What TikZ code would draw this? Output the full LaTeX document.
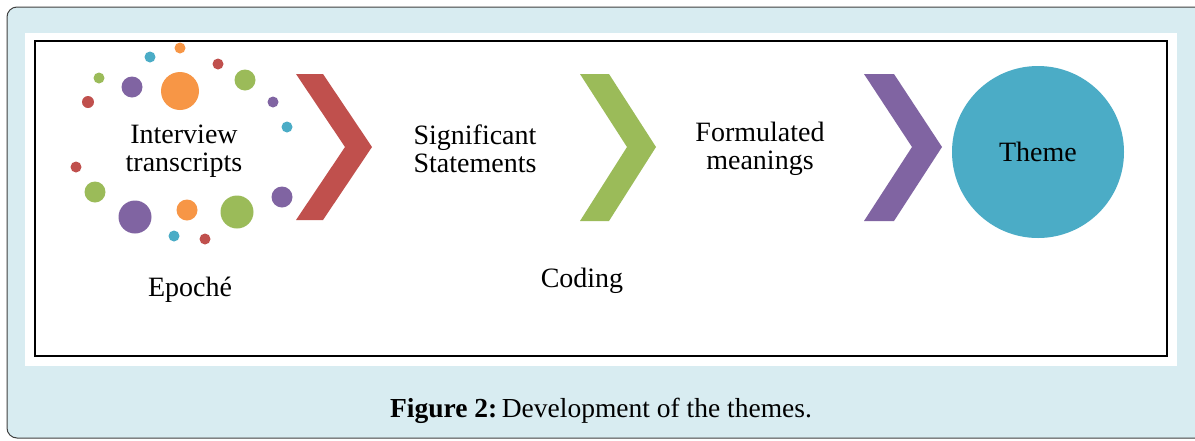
\documentclass[tikz,border=0pt]{standalone}
\usepackage{fontspec}
\setmainfont{Liberation Serif}
\definecolor{panelblue}{HTML}{D8ECF1}
\definecolor{dotred}{HTML}{C0504D}
\definecolor{dotgreen}{HTML}{9BBB59}
\definecolor{dotpurple}{HTML}{8064A2}
\definecolor{dotorange}{HTML}{F79646}
\definecolor{dotcyan}{HTML}{4BACC6}
\begin{document}
\begin{tikzpicture}[x=1pt,y=-1pt,
  dot/.style={circle,inner sep=0pt,minimum size=#1},
  label/.style={font=\fontsize{28}{28.5}\selectfont,align=center,text=black}]
\useasboundingbox (0,0) rectangle (1195,440);
\clip (0,0) rectangle (1195,440);
% panel and frame
\draw[fill=panelblue,draw=black!75,line width=1pt,rounded corners=10pt] (7,7) rectangle (1215,438);
\fill[white] (25,33) rectangle (1177,366);
\draw[line width=2.2pt] (35,41) rectangle (1167,356);
% scattered dots
\foreach \x/\y/\d/\c/\n in {
  180/48/11/dotorange/a1, 150/57/11/dotcyan/a2, 218/64/11/dotred/a3,
  99/78/11/dotgreen/a4, 132/87/21/dotpurple/a5, 180/91/38/dotorange/a6,
  245/80/21/dotgreen/a7, 88/102/12/dotred/a8, 273/102/11/dotpurple/a9,
  287/127/11/dotcyan/a10, 76/167/11/dotred/a11, 95/192/21/dotgreen/a12,
  135/217/33/dotpurple/a13, 187/210/21/dotorange/a14, 237/212/33/dotgreen/a15,
  282/197/21/dotpurple/a16, 174/236/11/dotcyan/a17, 205/239/11/dotred/a18}
  \node[dot=\d pt,fill=\c] (\n) at (\x,\y) {};
% labels
\node[label] (transcripts) at (184,151) {Interview\\transcripts};
\node[label] (epoche) at (190,290) {Epoché};
\node[label] (statements) at (475,149) {Significant\\Statements};
\node[label] (meanings) at (760,149) {Formulated\\meanings};
\node[label] (coding) at (582,281) {Coding};
% chevrons
\fill[dotred] (296,74) -- (323,74) -- (372,147) -- (323,220) -- (296,220) -- (345,147) -- cycle;
\fill[dotgreen] (580,74) -- (609,74) -- (656,147) -- (609,221) -- (580,221) -- (627,147) -- cycle;
\fill[dotpurple] (864,74) -- (894,74) -- (942,147) -- (894,221) -- (864,221) -- (912,147) -- cycle;
% final circle
\node[circle,fill=dotcyan,minimum size=172pt,inner sep=0pt] (theme) at (1038,152) {};
\node[label] (themetext) at (theme.center) {Theme};
% caption
\node[font=\fontsize{27.5}{30}\selectfont] (caption) at (601,411) {\textbf{Figure 2:}\,Development of the themes.};
\end{tikzpicture}
\end{document}
